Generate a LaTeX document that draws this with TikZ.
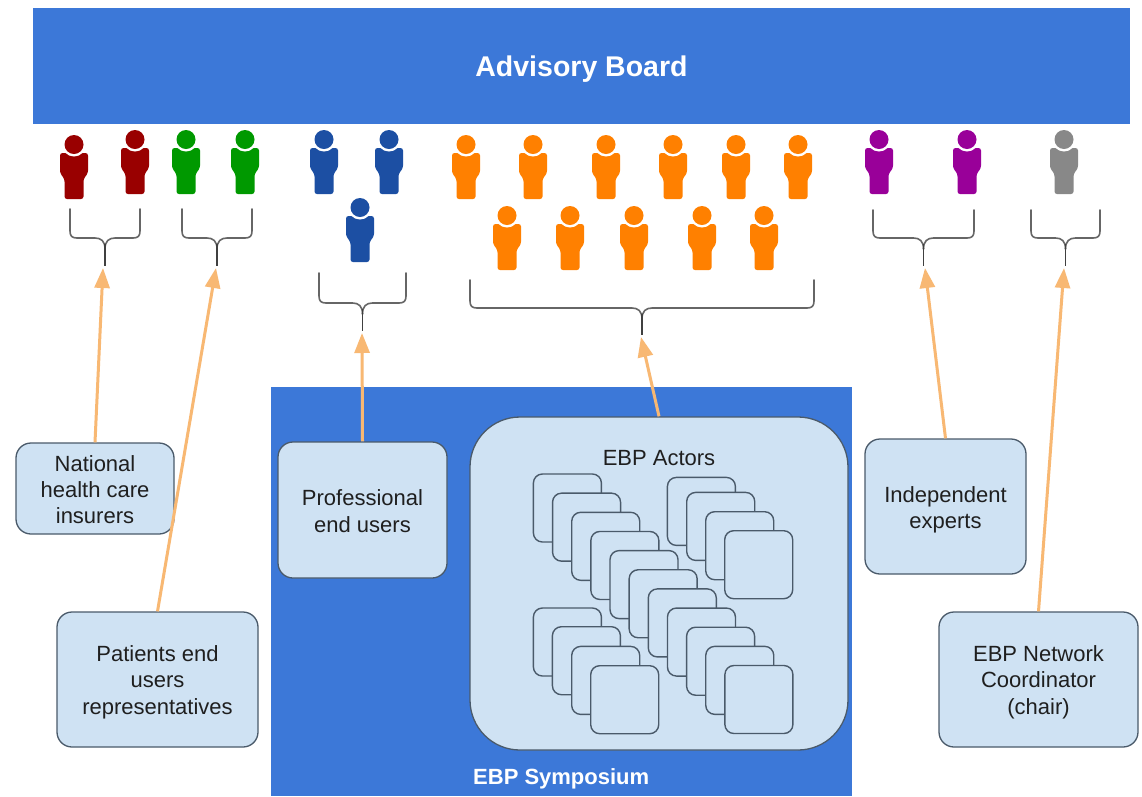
\documentclass[tikz,border=0pt]{standalone}
\usepackage{fontspec}
\setmainfont{Liberation Sans}
\usetikzlibrary{arrows.meta}
\definecolor{boardblue}{HTML}{3C78D8}
\definecolor{boxfill}{HTML}{CFE2F3}
\definecolor{boxline}{HTML}{4A5A6A}
\definecolor{arrowor}{HTML}{F8B873}
\definecolor{pred}{HTML}{990000}
\definecolor{pgreen}{HTML}{009900}
\definecolor{pblue}{HTML}{1C4FA3}
\definecolor{porange}{HTML}{FF8000}
\definecolor{ppurple}{HTML}{990099}
\definecolor{pgray}{HTML}{888888}
\definecolor{txt}{HTML}{1F1F1F}
\newcommand{\topfix}[1]{\rule{0pt}{#1pt}}
\tikzset{
  x=1pt,y=-1pt,
  band/.style={fill=boardblue,draw=none,inner sep=0pt,text=white,align=center,font=\bfseries\fontsize{28.5}{32}\selectfont},
  infobox/.style={fill=boxfill,draw=boxline,line width=1.3pt,rounded corners=15pt,inner sep=0pt,align=center,text=txt,font=\fontsize{22}{26.3}\selectfont},
  actorbox/.style={fill=boxfill,draw=boxline,line width=1.4pt,rounded corners=9pt,inner sep=0pt,minimum width=68pt,minimum height=68pt},
  feed/.style={draw=arrowor,line width=3pt,-{Triangle[width=15pt,length=20pt]}},
  bracketline/.style={draw=black!60,line width=1.6pt,line cap=round},
  bracketstem/.style={draw=black!75,line width=1.8pt},
  person/.pic={
    \fill[#1,rounded corners=2.5pt] (-14,18)--(14,18)--(14,38)--(9.5,44)--(9.5,64)--(-9.5,64)--(-9.5,44)--(-14,38)--cycle;
    \fill[white] (0,9.5) circle[radius=12];
    \fill[#1] (0,9.5) circle[radius=9.5];
  }
}
\newcommand{\bracket}[6]{% name, left, right, top, horizontal, tip
  \pgfmathsetmacro{\cx}{(#2+#3)/2}
  \coordinate (#1) at (\cx,#6);
  \draw[bracketline] (#2,#4) -- (#2,#5-7) .. controls (#2,#5-2) and (#2+2,#5) .. (#2+7,#5) -- (\cx-10,#5) .. controls (\cx-4,#5) and (\cx,#5+3) .. (\cx,#5+11);
  \draw[bracketline] (#3,#4) -- (#3,#5-7) .. controls (#3,#5-2) and (#3-2,#5) .. (#3-7,#5) -- (\cx+10,#5) .. controls (\cx+4,#5) and (\cx,#5+3) .. (\cx,#5+11);
  \draw[bracketstem] (\cx,#5+6) -- (#1);
}
\begin{document}
\begin{tikzpicture}
\useasboundingbox (0,0) rectangle (1142,796);
\fill[white] (0,0) rectangle (1142,796);

% board
\node[band,minimum width=1097pt,minimum height=116pt] (board) at (581.5,66) {\topfix{27}Advisory Board};

% people
\foreach \x/\y in {74/135,135/130} \pic at (\x,\y) {person=pred};
\foreach \x/\y in {186/130,245/130} \pic at (\x,\y) {person=pgreen};
\foreach \x/\y in {324/130,389/130,360/198} \pic at (\x,\y) {person=pblue};
\foreach \x/\y in {466/135,533/135,606/135,673/135,736/135,798/135,507/206,570/206,634/206,702/206,764/206} \pic at (\x,\y) {person=porange};
\foreach \x/\y in {879/130,967/130} \pic at (\x,\y) {person=ppurple};
\pic at (1064,130) {person=pgray};

% brackets
\bracket{tipred}{70}{140}{209}{238}{266}
\bracket{tipgreen}{182}{252}{209}{238}{266}
\bracket{tipblue}{319}{406}{273}{303}{331}
\bracket{tiporange}{470}{814}{280}{308}{335}
\bracket{tippurple}{873}{974}{210}{238}{266}
\bracket{tipgray}{1031}{1100}{210}{238}{266}
\coordinate (headred) at (103,268);
\coordinate (headgreen) at (216,268);
\coordinate (headblue) at (362,333);
\coordinate (headorange) at (641,337);
\coordinate (headpurple) at (925,268);
\coordinate (headgray) at (1064,268);

% symposium
\fill[boardblue] (271,387) rectangle (852,796);
\node[anchor=west,text=white,inner sep=0pt,font=\bfseries\fontsize{22}{26}\selectfont] (symp) at (473,779) {EBP Symposium};

% boxes
\node[infobox,minimum width=158pt,minimum height=91pt] (nat) at (95,488.5) {\topfix{18}National\\health care\\insurers};
\node[infobox,minimum width=201pt,minimum height=135pt] (pat) at (157.5,679.5) {\topfix{21}Patients end\\users\\representatives};
\node[infobox,minimum width=169pt,minimum height=136pt] (pro) at (362.5,510) {\topfix{18}Professional\\end users};
\node[infobox,minimum width=161pt,minimum height=135pt] (ind) at (945.5,506.5) {\topfix{22}Independent\\experts};
\node[infobox,minimum width=199pt,minimum height=135pt] (coord) at (1038.5,679.5) {\topfix{21}EBP Network\\Coordinator\\(chair)};
\node[infobox,rounded corners=50pt,minimum width=378pt,minimum height=333pt] (actors) at (659,583.5) {};
\node[text=txt,inner sep=0pt,font=\fontsize{22}{26}\selectfont] (actorlabel) at (659,458) {EBP Actors};

% small actor cards
\foreach \x/\y [count=\i] in {666.7/476.7,686/491.7,705/511,724/530}
  \node[actorbox,anchor=north west] (cardb\i) at (\x,\y) {};
\foreach \x/\y [count=\i] in {532.7/607.3,551.7/626,571/645.7,590/665}
  \node[actorbox,anchor=north west] (cardc\i) at (\x,\y) {};
\foreach \k [count=\i, evaluate=\k as \x using 532.7+19.15*\k, evaluate=\k as \y using 473.3+19.15*\k] in {0,...,10}
  \node[actorbox,anchor=north west] (carda\i) at (\x,\y) {};

% arrows
\draw[feed] (nat.north) -- (headred);
\draw[feed] (pat.north) -- (headgreen);
\draw[feed] (pro.north) -- (headblue);
\draw[feed] (actors.north) -- (headorange);
\draw[feed] (ind.north) -- (headpurple);
\draw[feed] (coord.north) -- (headgray);
\end{tikzpicture}
\end{document}
